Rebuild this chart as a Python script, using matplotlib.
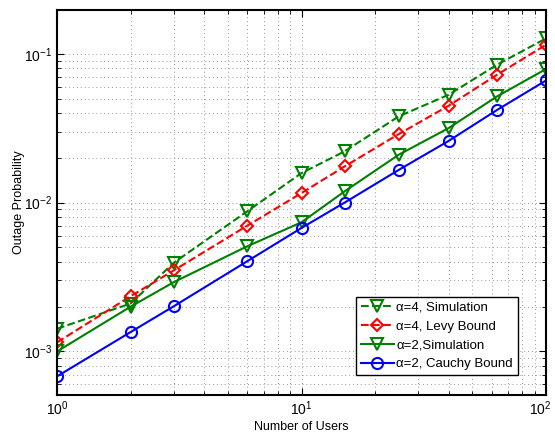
import matplotlib
matplotlib.use("Agg")
import matplotlib.pyplot as plt
import matplotlib.transforms as mtransforms

plt.rcParams['font.family'] = ['Liberation Sans', 'DejaVu Sans']

users = [1, 2, 3, 6, 10, 15, 25, 40, 63, 100]
sim_a4 = [1.42e-3, 2.1e-3, 3.94e-3, 8.75e-3, 1.58e-2, 2.21e-2, 3.8e-2, 5.31e-2, 8.44e-2, 0.127]
levy_a4 = [1.15e-3, 2.35e-3, 3.5e-3, 7.0e-3, 1.16e-2, 1.75e-2, 2.89e-2, 4.48e-2, 7.23e-2, 0.115]
sim_a2 = [1.0e-3, 2.0e-3, 2.92e-3, 5.09e-3, 7.38e-3, 1.19e-2, 2.1e-2, 3.17e-2, 5.17e-2, 7.9e-2]
cauchy_a2 = [6.8e-4, 1.35e-3, 2.01e-3, 4.04e-3, 6.76e-3, 1.0e-2, 1.66e-2, 2.6e-2, 4.19e-2, 6.62e-2]

green = '#008000'

fig = plt.figure(figsize=(5.55, 4.34), dpi=100)
ax = fig.add_axes([0.1027, 0.0899, 0.8811, 0.8871])

ax.loglog(users, sim_a4, '--v', color=green, lw=1.5, ms=8, mfc='none', mew=1.5,
          label='α=4, Simulation')
ax.loglog(users, levy_a4, '--D', color='r', lw=1.5, ms=6.5, mfc='none', mew=1.5,
          label='α=4, Levy Bound')
ax.loglog(users, sim_a2, '-v', color=green, lw=1.5, ms=8, mfc='none', mew=1.5,
          label='α=2,Simulation')
ax.loglog(users, cauchy_a2, '-o', color='b', lw=1.5, ms=8, mfc='none', mew=1.5,
          label='α=2, Cauchy Bound')

ax.set_xlim(1, 100)
ax.set_ylim(5.1e-4, 0.197)
ax.grid(True, which='both', linestyle=(0, (1, 3)), color='#999999', linewidth=0.7)
ax.tick_params(which='both', direction='in', top=True, right=True, labelsize=10)
ax.tick_params(which='major', length=5)
ax.tick_params(which='minor', length=3)
for s in ax.spines.values():
    s.set_linewidth(1.5)

ax.set_xlabel('Number of Users', fontsize=9, labelpad=2)
ax.set_ylabel('Outage Probability', fontsize=9)
ax.yaxis.set_label_coords(-0.066, 0.5)

# keep the last x tick label inside the picture
fig.canvas.draw()
last = [t for t in ax.get_xticklabels() if t.get_position()[0] == 100]
for t in last:
    t.set_transform(t.get_transform() + mtransforms.ScaledTranslation(-4 / 72, 0, fig.dpi_scale_trans))

leg = ax.legend(loc='lower right', bbox_to_anchor=(0.942, 0.052), fontsize=9.5,
                fancybox=False, edgecolor='black', framealpha=1,
                handlelength=2.5, borderpad=0.35, labelspacing=0.5, handletextpad=0.2,
                borderaxespad=0)
leg.get_frame().set_linewidth(1.0)

fig.savefig('out.png', dpi=100)
